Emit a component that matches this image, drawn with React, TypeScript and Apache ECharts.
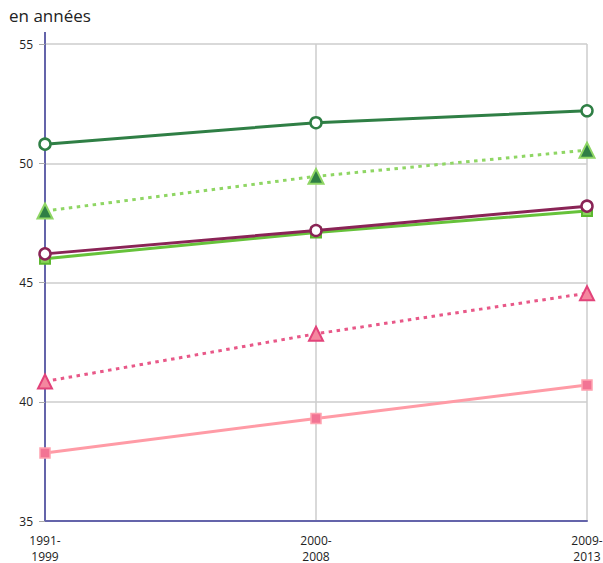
import React, { useEffect, useRef } from "react";
import * as echarts from "echarts";

const categories = ["1991-\n1999", "2000-\n2008", "2009-\n2013"];
const darkGreen = [50.8, 51.7, 52.2];
const lightGreenDotted = [48.0, 49.45, 50.55];
const maroon = [46.2, 47.18, 48.2];
const greenSquares = [46.0, 47.1, 48.0];
const pinkDotted = [40.85, 42.85, 44.55];
const lightPink = [37.85, 39.3, 40.7];
const yTicks = { min: 35, max: 55, interval: 5 };

export default function App() {
  const ref = useRef<HTMLDivElement>(null);
  useEffect(() => {
    if (!ref.current) return;
    const chart = echarts.init(ref.current, undefined, { renderer: "svg" });
    const font = "'Open Sans', 'DejaVu Sans', sans-serif";
    chart.setOption({
      animation: false,
      textStyle: { fontFamily: font },
      graphic: [
        {
          type: "text",
          left: 9,
          top: 7,
          style: { text: "en années", fontSize: 17, fill: "#222", fontFamily: font },
        },
        {
          type: "line",
          shape: { x1: 45, y1: 32, x2: 45, y2: 45 },
          style: { stroke: "#6464aa", lineWidth: 2 },
        },
      ],
      grid: { left: 45, right: 16, top: 44, bottom: 42, containLabel: false, outerBoundsMode: "none" },
      xAxis: {
        type: "category",
        data: categories,
        boundaryGap: false,
        axisLine: { lineStyle: { color: "#6464aa", width: 2 } },
        axisTick: { show: false },
        splitLine: { show: true, lineStyle: { color: "#cccccc", width: 1.5 } },
        axisLabel: { color: "#222", fontSize: 12, margin: 11, lineHeight: 16, fontFamily: font },
      },
      yAxis: {
        type: "value",
        min: yTicks.min,
        max: yTicks.max,
        interval: yTicks.interval,
        axisLine: { show: true, lineStyle: { color: "#6464aa", width: 2 } },
        axisTick: { show: true, length: 6, lineStyle: { color: "#aaaaaa" } },
        splitLine: { show: true, lineStyle: { color: "#cccccc", width: 1.5 } },
        axisLabel: { color: "#222", fontSize: 12, margin: 12, fontFamily: font },
      },
      series: [
        {
          type: "line",
          data: lightPink,
          symbol: "rect",
          symbolSize: 10,
          lineStyle: { color: "#ff9ba6", width: 3 },
          itemStyle: { color: "#f27494", borderColor: "#ffa3b0", borderWidth: 1.5 },
        },
        {
          type: "line",
          data: pinkDotted,
          symbol: "triangle",
          symbolSize: 14,
          lineStyle: { color: "#e85888", width: 3, type: [3.5, 4.5] },
          itemStyle: { color: "#f4879f", borderColor: "#e2437a", borderWidth: 2 },
        },
        {
          type: "line",
          data: greenSquares,
          symbol: "rect",
          symbolSize: 10,
          lineStyle: { color: "#66c23a", width: 3 },
          itemStyle: { color: "#8ad35c", borderColor: "#5cb82f", borderWidth: 2 },
        },
        {
          type: "line",
          data: maroon,
          symbol: "circle",
          symbolSize: 11,
          lineStyle: { color: "#8a2456", width: 3 },
          itemStyle: { color: "#ffffff", borderColor: "#8a2456", borderWidth: 2.5 },
        },
        {
          type: "line",
          data: lightGreenDotted,
          symbol: "triangle",
          symbolSize: 15,
          lineStyle: { color: "#8fd664", width: 3, type: [3.5, 4.5] },
          itemStyle: { color: "#2f7f45", borderColor: "#8fd664", borderWidth: 2 },
        },
        {
          type: "line",
          data: darkGreen,
          symbol: "circle",
          symbolSize: 11,
          lineStyle: { color: "#2f7f45", width: 3 },
          itemStyle: { color: "#ffffff", borderColor: "#2f7f45", borderWidth: 2.5 },
        },
      ],
    });
    return () => chart.dispose();
  }, []);
  return <div ref={ref} style={{ width: 603, height: 563, position: "absolute", left: 0, top: 0 }} />;
}
